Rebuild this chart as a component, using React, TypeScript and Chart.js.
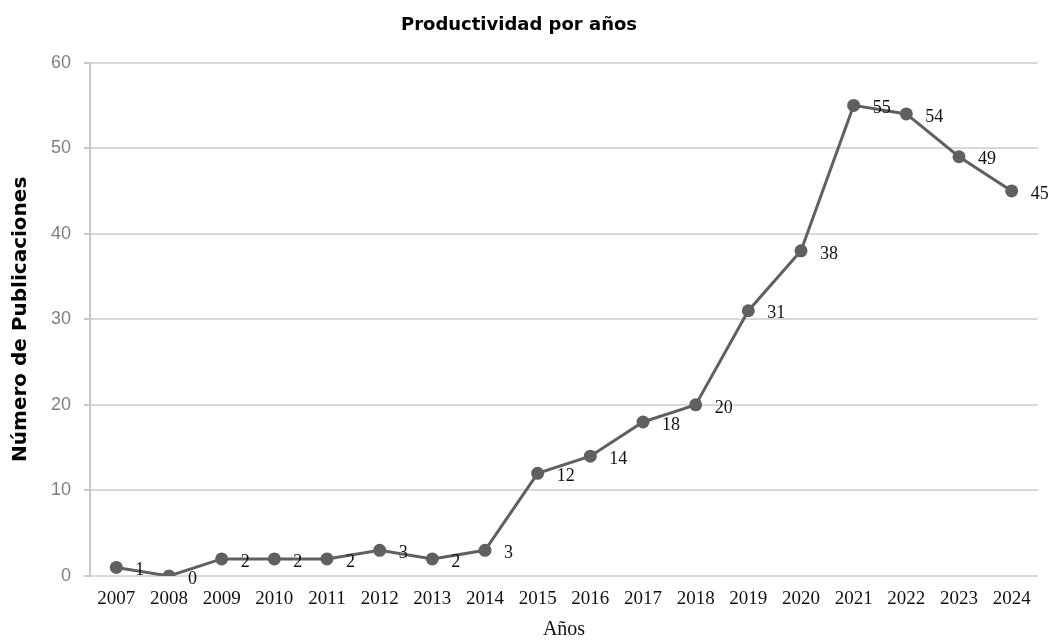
import React, { useEffect, useRef } from "react";
import { Chart, registerables } from "chart.js";

Chart.register(...registerables);

const years = ["2007","2008","2009","2010","2011","2012","2013","2014","2015","2016","2017","2018","2019","2020","2021","2022","2023","2024"];
const publications = [1,0,2,2,2,3,2,3,12,14,18,20,31,38,55,54,49,45];
const yTicks = [0,10,20,30,40,50,60];

const chartTitle = "Productividad por años";
const xTitle = "Años";
const yTitle = "Número de Publicaciones";

const serif = "'Liberation Serif', 'Times New Roman', serif";
const sans = "'Liberation Sans', Arial, sans-serif";
const wideSans = "'DejaVu Sans', 'Liberation Sans', sans-serif";

const labelPlugin = {
  id: "pointLabels",
  afterDatasetsDraw(chart: any) {
    const ctx = chart.ctx;
    const meta = chart.getDatasetMeta(0);
    ctx.save();
    ctx.font = `18px ${serif}`;
    ctx.fillStyle = "#111";
    ctx.textAlign = "left";
    ctx.textBaseline = "middle";
    meta.data.forEach((pt: any, i: number) => {
      ctx.fillText(String(publications[i]), pt.x + 19, pt.y + 3);
    });
    ctx.restore();
  },
};

export default function App() {
  const ref = useRef<HTMLCanvasElement>(null);
  useEffect(() => {
    document.body.style.margin = "0";
    const chart = new Chart(ref.current!, {
      type: "line",
      data: {
        labels: years,
        datasets: [
          {
            data: publications,
            borderColor: "#606060",
            backgroundColor: "#606060",
            borderWidth: 3,
            pointRadius: 6.5,
            pointBackgroundColor: "#606060",
            pointBorderColor: "#606060",
            pointBorderWidth: 0,
            tension: 0,
          },
        ],
      },
      options: {
        animation: false,
        responsive: true,
        maintainAspectRatio: false,
        layout: { padding: { left: 0, right: 15, top: 0, bottom: 0 } },
        plugins: {
          legend: { display: false },
          tooltip: { enabled: false },
          title: {
            display: true,
            text: chartTitle,
            color: "#000",
            font: { family: wideSans, size: 18, weight: "bold" },
            padding: { top: 15, bottom: 26 },
          },
        },
        scales: {
          x: {
            offset: true,
            afterFit: (scale: any) => {
              scale.height = 64;
            },
            grid: { display: false, drawTicks: false },
            border: { display: false },
            ticks: {
              color: "#111",
              font: { family: serif, size: 19 },
              padding: 12,
              maxRotation: 0,
              autoSkip: false,
            },
            title: {
              display: true,
              text: xTitle,
              color: "#111",
              font: { family: serif, size: 20, lineHeight: 1.0 },
              padding: { top: 0, bottom: 0 },
            },
          },
          y: {
            min: 0,
            max: 60,
            afterBuildTicks: (scale: any) => {
              scale.ticks = yTicks.map((v) => ({ value: v }));
            },
            afterFit: (scale: any) => {
              scale.width = 90;
            },
            grid: { color: "#d9d9d9", lineWidth: 2, tickLength: 6, tickColor: "#c8c8c8" },
            border: { display: true, color: "#c8c8c8", width: 2 },
            ticks: {
              color: "#7f7f7f",
              font: { family: sans, size: 18 },
              padding: 13,
            },
            title: {
              display: true,
              text: yTitle,
              color: "#000",
              font: { family: wideSans, size: 20, weight: "bold" },
              padding: { top: 9, bottom: 4 },
            },
          },
        },
      },
      plugins: [labelPlugin],
    });
    return () => chart.destroy();
  }, []);
  return (
    <div style={{ position: "fixed", left: 0, top: 0, width: 1053, height: 640, background: "#fff" }}>
      <canvas ref={ref} />
    </div>
  );
}
